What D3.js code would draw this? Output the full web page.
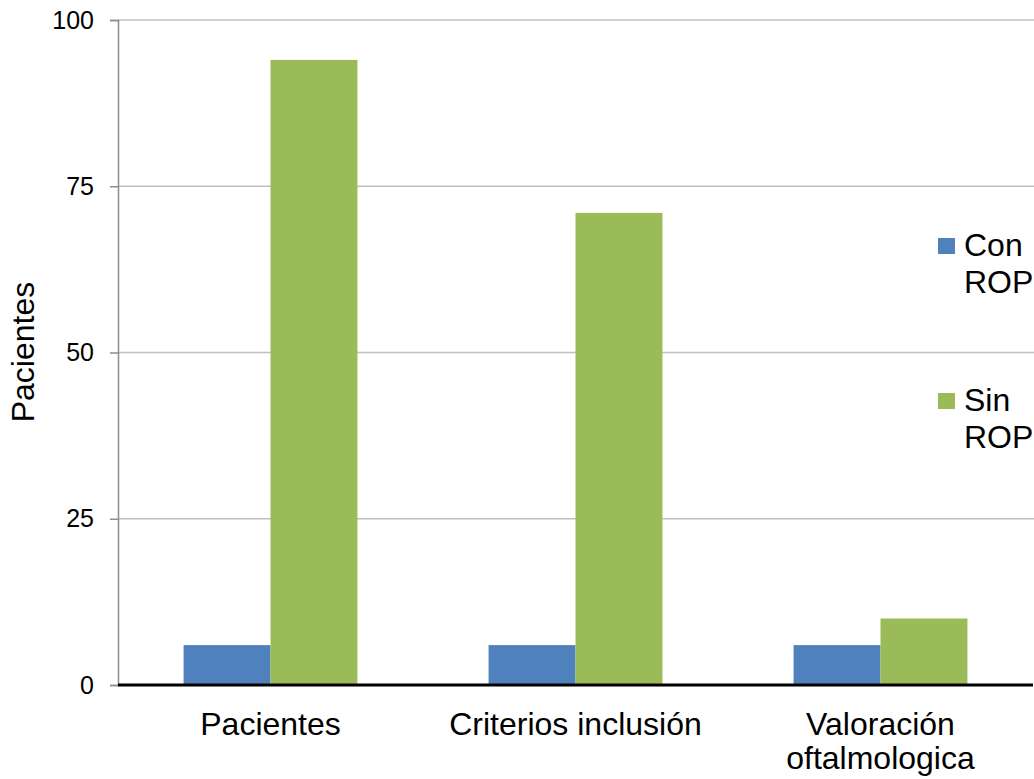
<!DOCTYPE html>
<html>
<head>
<meta charset="utf-8">
<script src="https://cdn.jsdelivr.net/npm/d3@7"></script>
<style>
  html, body { margin: 0; padding: 0; background: #fff; }
  svg { display: block; font-family: "Liberation Sans", Arial, sans-serif; }
</style>
</head>
<body>
<svg id="chart" width="1034" height="779"></svg>
<script>
// Chart data
const categories = [["Pacientes"], ["Criterios inclusión"], ["Valoración", "oftalmologica"]];
const seriesNames = [["Con", "ROP"], ["Sin", "ROP"]];
const seriesColors = ["#4F81BD", "#9BBB59"];
const conROP = [6, 6, 6];
const sinROP = [94, 71, 10];
const yTicks = [0, 25, 50, 75, 100];
const yTitle = "Pacientes";

const FONT = "Liberation Sans, Arial, sans-serif";
const svg = d3.select("#chart");
const plot = { left: 118, right: 1033, top: 20, bottom: 685 };

const catKeys = categories.map(c => c.join(" "));
const x = d3.scaleBand().domain(catKeys).range([plot.left, plot.right])
  .paddingInner(0.43).paddingOuter(0.215);
const xs = d3.scaleBand().domain([0, 1]).range([0, x.bandwidth()]);
const y = d3.scaleLinear().domain([0, 100]).range([plot.bottom, plot.top]);

// Horizontal gridlines
svg.append("g").selectAll("line").data(yTicks.filter(d => d > 0)).join("line")
  .attr("x1", plot.left).attr("x2", 1034)
  .attr("y1", d => y(d)).attr("y2", d => y(d))
  .attr("stroke", "#BFBFBF").attr("stroke-width", 1.3);

// Y axis
const yAxis = svg.append("g").attr("transform", `translate(${plot.left},0)`)
  .call(d3.axisLeft(y).tickValues(yTicks).tickSize(8).tickPadding(16));
yAxis.attr("font-family", FONT);
yAxis.select(".domain").attr("stroke", "#8C8C8C").attr("stroke-width", 1.5);
yAxis.selectAll(".tick line").attr("stroke", "#8C8C8C").attr("stroke-width", 1.5);
yAxis.selectAll(".tick text").attr("font-size", 25).attr("fill", "#000");

// Bars
const rows = catKeys.map((k, i) => ({ key: k, values: [conROP[i], sinROP[i]] }));
const groups = svg.append("g").selectAll("g").data(rows).join("g")
  .attr("transform", d => `translate(${x(d.key)},0)`);
groups.selectAll("rect").data(d => d.values.map((v, s) => ({ v, s }))).join("rect")
  .attr("x", d => xs(d.s)).attr("width", xs.bandwidth())
  .attr("y", d => y(d.v)).attr("height", d => y(0) - y(d.v))
  .attr("fill", d => seriesColors[d.s]);

// Baseline
svg.append("line")
  .attr("x1", plot.left).attr("x2", plot.right)
  .attr("y1", y(0)).attr("y2", y(0))
  .attr("stroke", "#000").attr("stroke-width", 3);

// Category labels
svg.append("g").selectAll("text").data(categories).join("text")
  .attr("x", (d, i) => x(catKeys[i]) + x.bandwidth() / 2)
  .attr("y", 735)
  .attr("text-anchor", "middle").attr("font-size", 32).attr("fill", "#000")
  .selectAll("tspan").data(d => d).join("tspan")
  .attr("x", function () { return d3.select(this.parentNode).attr("x"); })
  .attr("dy", (d, i) => i === 0 ? 0 : 34)
  .text(d => d);

// Y axis title
svg.append("text")
  .attr("transform", "translate(34,352) rotate(-90)")
  .attr("text-anchor", "middle")
  .attr("font-size", 32).attr("fill", "#000")
  .text(yTitle);

// Legend
const legendY = [238, 393];
const legend = svg.append("g").selectAll("g").data(seriesNames).join("g")
  .attr("transform", (d, i) => `translate(938,${legendY[i]})`);
legend.append("rect").attr("x", 0).attr("y", 0).attr("width", 17).attr("height", 16)
  .attr("fill", (d, i) => seriesColors[i]);
legend.append("text").attr("x", 26).attr("y", 18)
  .attr("font-size", 32).attr("fill", "#000")
  .selectAll("tspan").data(d => d).join("tspan")
  .attr("x", 26).attr("dy", (d, i) => i === 0 ? 0 : 37)
  .text(d => d);
</script>
</body>
</html>
